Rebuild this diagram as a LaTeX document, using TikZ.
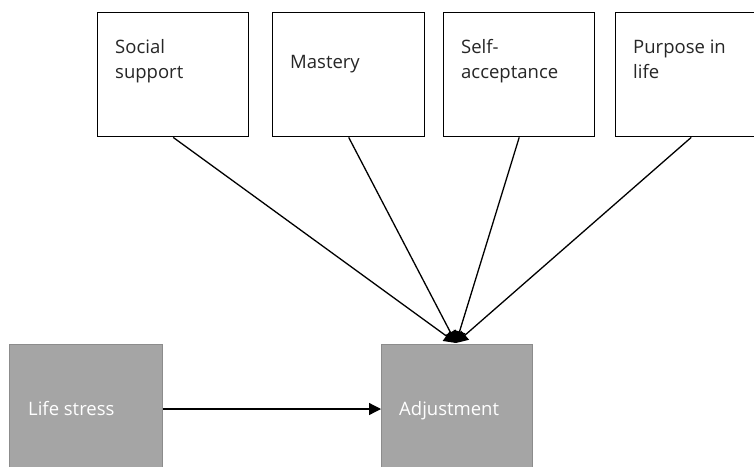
\documentclass[tikz,border=0pt]{standalone}
\usepackage{fontspec}
\setmainfont{Open Sans}
\usetikzlibrary{arrows.meta}
\definecolor{boxgray}{RGB}{165,165,165}
\definecolor{edgegray}{RGB}{140,140,140}
\begin{document}
\begin{tikzpicture}[x=1pt,y=-1pt,
  whitebox/.style={draw=black,line width=1.4pt,fill=white},
  graybox/.style={draw=edgegray,line width=1.2pt,fill=boxgray},
  lbl/.style={anchor=base west,inner sep=0pt,font=\fontsize{18.5}{25}\selectfont,text=black!85},
  wlbl/.style={anchor=base west,inner sep=0pt,font=\fontsize{18.5}{25}\selectfont,text=white},
  conn/.style={line width=1.3pt,-{Triangle[length=12pt,width=12pt]}}]
\useasboundingbox (0,0) rectangle (754,466);
\begin{scope}
\clip (0,0) rectangle (754,466);
% top boxes
\node[whitebox,minimum width=151pt,minimum height=124pt,inner sep=0pt,anchor=north west] (b1) at (97,12) {};
\node[whitebox,minimum width=152pt,minimum height=124pt,inner sep=0pt,anchor=north west] (b2) at (272,12) {};
\node[whitebox,minimum width=151pt,minimum height=124pt,inner sep=0pt,anchor=north west] (b3) at (443,12) {};
\node[whitebox,minimum width=151pt,minimum height=124pt,inner sep=0pt,anchor=north west] (b4) at (615,12) {};
% bottom boxes
\node[graybox,minimum width=153pt,minimum height=124pt,inner sep=0pt,anchor=north west] (ls) at (9,344) {};
\node[graybox,minimum width=151pt,minimum height=124pt,inner sep=0pt,anchor=north west] (adj) at (381,344) {};
% labels
\node[lbl] (t1a) at (115,53) {Social};
\node[lbl] (t1b) at (115,78) {support};
\node[lbl] (t2) at (290,68) {Mastery};
\node[lbl] (t3a) at (461,53) {Self-};
\node[lbl] (t3b) at (461,78) {acceptance};
\node[lbl] (t4a) at (633,53) {Purpose in};
\node[lbl] (t4b) at (633,78) {life};
\node[wlbl] (t5) at (28,415) {Life stress};
\node[wlbl] (t6) at (399,415) {Adjustment};
% connectors
\coordinate (hub) at (456,343);
\draw[conn] (b1.south) -- (hub);
\draw[conn] (b2.south) -- (hub);
\draw[conn] (b3.south) -- (hub);
\draw[conn] (b4.south) -- (hub);
\draw[conn] (ls.east |- 0,409) -- (adj.west |- 0,409);
\end{scope}
\end{tikzpicture}
\end{document}
